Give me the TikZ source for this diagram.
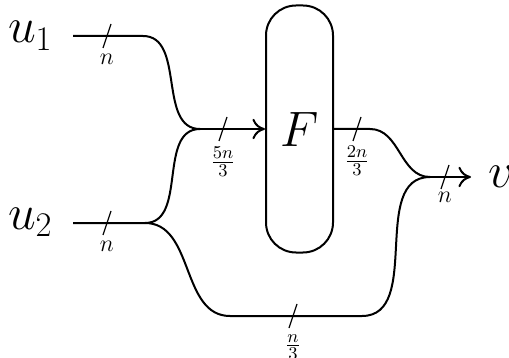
\documentclass[tikz,border=0pt]{standalone}
\usepackage{amsmath,amssymb}
\usetikzlibrary{arrows.meta,positioning}

\begin{document}
\begin{tikzpicture}[x=0.5pt,y=-0.5pt]
\tikzset{
  port/.style={inner sep=0pt,font=\fontsize{23}{28}\selectfont},
  block/.style={draw,line width=1pt,rounded corners=15pt,minimum width=33.5pt,minimum height=123.5pt,font=\fontsize{23}{28}\selectfont,inner sep=0pt},
  wire/.style={line width=1pt},
  arrowwire/.style={line width=1pt,-{To[length=2.2mm,width=3.6mm]}},
  busmark/.style={line width=0.6pt},
  buslabel/.style={inner sep=1pt,font=\fontsize{13}{16}\selectfont}
}
\useasboundingbox (0,0) rectangle (509,358);
% ports and block
\node[port,anchor=base east] (n_u1) at (53,43) {$u_1$};
\node[port,anchor=base east] (n_u2) at (53,229) {$u_2$};
\node[port,anchor=base west] (n_v) at (488,187) {$v$};
\node[block] (n_F) at (299.5,129) {$F$};
% wire points
\coordinate (c_a1) at (73,36);
\coordinate (c_b1) at (143,36);
\coordinate (c_a2) at (73,223);
\coordinate (c_b2) at (145,223);
\coordinate (c_mA) at (200,129);
\coordinate (c_c2) at (230,316);
\coordinate (c_d2) at (362,316);
\coordinate (c_e1) at (370,129);
\coordinate (c_mB) at (430,177);
\coordinate (c_out) at (471,177);
% wires
\draw[wire] (c_a1) -- (c_b1) to[out=0,in=180] (c_mA);
\draw[wire] (c_a2) -- (c_b2) to[out=0,in=180] (c_mA);
\draw[arrowwire] (c_mA) -- (c_mA -| n_F.west);
\draw[wire] (c_b2) to[out=0,in=180] (c_c2) -- (c_d2) to[out=0,in=180] (c_mB);
\draw[wire] (c_mA -| n_F.east) -- (c_e1) to[out=0,in=180] (c_mB);
\draw[arrowwire] (c_mB) -- (c_out);
% bus widths
\coordinate (s_u1) at (107,36);
\coordinate (s_u2) at (107,223);
\coordinate (s_in) at (223,129);
\coordinate (s_F) at (357,129);
\coordinate (s_low) at (293,316);
\coordinate (s_v) at (445,177);
\foreach \s in {s_u1,s_u2,s_in,s_F,s_low,s_v}
  \draw[busmark] ([shift={(-4,12)}]\s) -- ([shift={(4,-12)}]\s);
\node[buslabel,below=8pt of s_u1] (l_u1) {$n$};
\node[buslabel,below=8pt of s_u2] (l_u2) {$n$};
\node[buslabel,below=8pt of s_in] (l_in) {$\frac{5n}{3}$};
\node[buslabel,below=7.5pt of s_F] (l_F) {$\frac{2n}{3}$};
\node[buslabel,below=8pt of s_low] (l_low) {$\frac{n}{3}$};
\node[buslabel,below=6.5pt of s_v] (l_v) {$n$};
\end{tikzpicture}
\end{document}
